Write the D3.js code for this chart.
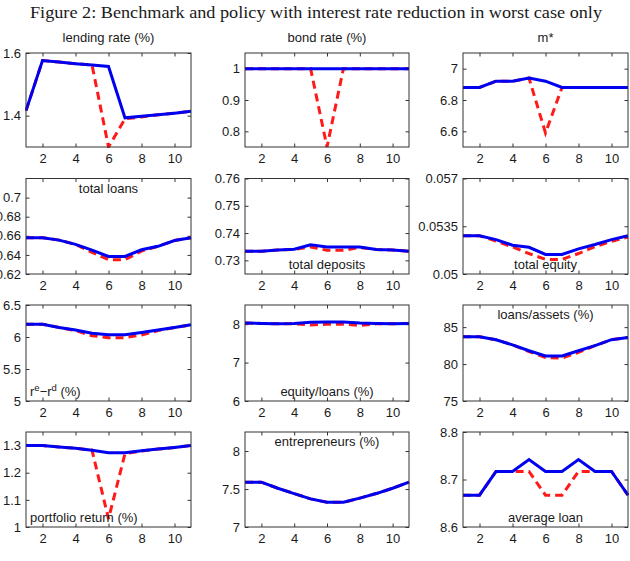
<!DOCTYPE html>
<html>
<head>
<meta charset="utf-8">
<script src="https://cdn.jsdelivr.net/npm/d3@7"></script>
<style>
body { margin: 0; background: #fff; }
svg text { font-family: "Liberation Sans", Arial, sans-serif; fill: #1a1a1a; }
</style>
</head>
<body>
<svg id="chart" width="630" height="561"></svg>
<script>
// horizon (quarters) and shared x tick labels
var periods = [1, 2, 3, 4, 5, 6, 7, 8, 9, 10, 11];
var xTicks = [2, 4, 6, 8, 10];

// benchmark (blue) and policy (red dashed) paths
var lendingBench  = [1.416, 1.576, 1.571, 1.566, 1.562, 1.557, 1.393, 1.398, 1.403, 1.408, 1.414];
var lendingPolicy = [1.416, 1.576, 1.571, 1.566, 1.562, 1.300, 1.390, 1.396, 1.403, 1.408, 1.414];

var bondBench  = [1, 1, 1, 1, 1, 1, 1, 1, 1, 1, 1];
var bondPolicy = [1, 1, 1, 1, 1, 0.75, 1, 1, 1, 1, 1];

var mBench  = [6.88, 6.88, 6.92, 6.92, 6.94, 6.92, 6.88, 6.88, 6.88, 6.88, 6.88];
var mPolicy = [6.88, 6.88, 6.92, 6.92, 6.94, 6.59, 6.88, 6.88, 6.88, 6.88, 6.88];

var loansBench  = [0.658, 0.658, 0.6555, 0.651, 0.645, 0.6384, 0.6384, 0.6454, 0.649, 0.655, 0.658];
var loansPolicy = [0.658, 0.658, 0.6555, 0.651, 0.6426, 0.635, 0.635, 0.644, 0.649, 0.655, 0.658];

var depositsBench  = [0.7333, 0.7333, 0.7338, 0.7341, 0.7357, 0.7349, 0.7349, 0.7349, 0.734, 0.7338, 0.7333];
var depositsPolicy = [0.7333, 0.7333, 0.7338, 0.734, 0.7349, 0.7337, 0.7337, 0.7347, 0.734, 0.7338, 0.7333];

var equityBench  = [0.0528, 0.0528, 0.05252, 0.05211, 0.05196, 0.05143, 0.05143, 0.05184, 0.05216, 0.05252, 0.0528];
var equityPolicy = [0.0528, 0.0528, 0.05242, 0.05198, 0.0515, 0.05107, 0.05107, 0.0515, 0.052, 0.0524, 0.0527];

var spreadBench  = [6.2, 6.2, 6.15, 6.11, 6.06, 6.035, 6.035, 6.07, 6.11, 6.15, 6.19];
var spreadPolicy = [6.2, 6.2, 6.15, 6.1, 6.02, 5.99, 5.99, 6.03, 6.1, 6.15, 6.19];

var eqLoansBench  = [8.03, 8.02, 8.01, 8.02, 8.05, 8.06, 8.06, 8.03, 8.02, 8.01, 8.02];
var eqLoansPolicy = [8.03, 8.02, 8.01, 8.01, 7.98, 8.0, 8.0, 7.97, 8.01, 8.01, 8.02];

var loanAssetBench  = [83.7, 83.7, 83.3, 82.6, 81.8, 81.1, 81.1, 81.8, 82.5, 83.3, 83.6];
var loanAssetPolicy = [83.7, 83.7, 83.3, 82.6, 81.7, 80.9, 80.8, 81.6, 82.5, 83.3, 83.6];

var portfolioBench  = [1.3, 1.3, 1.295, 1.29, 1.283, 1.274, 1.274, 1.281, 1.287, 1.293, 1.3];
var portfolioPolicy = [1.3, 1.3, 1.295, 1.29, 1.283, 1.03, 1.27, 1.28, 1.287, 1.293, 1.3];

var entrepBench  = [7.59, 7.59, 7.51, 7.44, 7.37, 7.325, 7.325, 7.38, 7.44, 7.51, 7.59];
var entrepPolicy = [7.59, 7.59, 7.51, 7.44, 7.37, 7.325, 7.325, 7.38, 7.44, 7.51, 7.59];

var avgLoanBench  = [8.667, 8.667, 8.717, 8.717, 8.742, 8.717, 8.717, 8.742, 8.717, 8.717, 8.667];
var avgLoanPolicy = [8.667, 8.667, 8.717, 8.717, 8.717, 8.667, 8.667, 8.717, 8.717, 8.717, 8.667];

// y ranges and tick labels per panel
var titles = ["lending rate (%)", "bond rate (%)", "m*", "total loans", "total deposits", "total equity",
              "re-rd", "equity/loans (%)", "loans/assets (%)", "portfolio return (%)", "entrepreneurs (%)", "average loan"];
var yDomains = [[1.3, 1.6], [0.75, 1.05], [6.5, 7.1], [0.62, 0.72], [0.725, 0.76], [0.05, 0.057],
                [5, 6.5], [6, 8.5], [75, 88], [1, 1.35], [7, 8.25], [8.6, 8.8]];
var yTicks = [[1.4, 1.6], [0.8, 0.9, 1], [6.6, 6.8, 7], [0.62, 0.64, 0.66, 0.68, 0.7], [0.73, 0.74, 0.75, 0.76],
              [0.05, 0.0535, 0.057], [5, 5.5, 6, 6.5], [6, 7, 8], [75, 80, 85], [1, 1.1, 1.2, 1.3], [7, 7.5, 8], [8.6, 8.7, 8.8]];
var benches = [lendingBench, bondBench, mBench, loansBench, depositsBench, equityBench,
               spreadBench, eqLoansBench, loanAssetBench, portfolioBench, entrepBench, avgLoanBench];
var policies = [lendingPolicy, bondPolicy, mPolicy, loansPolicy, depositsPolicy, equityPolicy,
                spreadPolicy, eqLoansPolicy, loanAssetPolicy, portfolioPolicy, entrepPolicy, avgLoanPolicy];

// layout
var colX = [[26, 191], [245, 409], [463, 628]];
var rowY = [[53, 147], [178.5, 274], [305, 401], [432, 527]];
var labelPlace = ["above", "above", "above", "top", "bottom", "bottom",
                  "bottomleft", "bottom", "top", "bottomleft", "top", "bottom"];

var svg = d3.select("#chart");

svg.append("text")
    .attr("x", 316)
    .attr("y", 18)
    .attr("text-anchor", "middle")
    .attr("textLength", 572)
    .attr("lengthAdjust", "spacingAndGlyphs")
    .style("font-family", "'Liberation Serif', 'DejaVu Serif', serif")
    .style("font-size", "17.5px")
    .text("Figure 2: Benchmark and policy with interest rate reduction in worst case only");

var tickLen = 3.5;

titles.forEach(function(title, i) {
  var c = colX[i % 3], r = rowY[Math.floor(i / 3)];
  var w = c[1] - c[0], h = r[1] - r[0];

  var x = d3.scaleLinear().domain([1, 11]).range([0, w]);
  var y = d3.scaleLinear().domain(yDomains[i]).range([h, 0]);

  var g = svg.append("g")
      .attr("transform", "translate(" + c[0] + "," + r[0] + ")");

  g.append("clipPath")
      .attr("id", "clip" + i)
    .append("rect")
      .attr("x", -1).attr("y", -1)
      .attr("width", w + 2).attr("height", h + 2);

  // ticks on all four sides, pointing inward
  var fmt = function(d) { return String(d); };
  g.append("g")
      .attr("transform", "translate(0," + h + ")")
      .call(d3.axisBottom(x).tickValues(xTicks).tickSizeInner(-tickLen).tickSizeOuter(0).tickPadding(7).tickFormat(fmt));
  g.append("g")
      .call(d3.axisTop(x).tickValues(xTicks).tickSizeInner(-tickLen).tickSizeOuter(0).tickFormat(""));
  g.append("g")
      .call(d3.axisLeft(y).tickValues(yTicks[i]).tickSizeInner(-tickLen).tickSizeOuter(0).tickPadding(5).tickFormat(fmt));
  g.append("g")
      .attr("transform", "translate(" + w + ",0)")
      .call(d3.axisRight(y).tickValues(yTicks[i]).tickSizeInner(-tickLen).tickSizeOuter(0).tickFormat(""));

  g.selectAll(".domain").remove();
  g.selectAll(".tick line").attr("stroke", "#333");
  g.selectAll(".tick text")
      .style("font-size", "13px")
      .style("font-family", "'Liberation Sans', Arial, sans-serif")
      .attr("fill", "#1a1a1a");

  var line = d3.line()
      .x(function(d, j) { return x(periods[j]); })
      .y(function(d) { return y(d); });

  var plot = g.append("g").attr("clip-path", "url(#clip" + i + ")");

  plot.append("path")
      .datum(policies[i])
      .attr("d", line)
      .attr("fill", "none")
      .attr("stroke", "#ff1a1a")
      .attr("stroke-width", 3)
      .attr("stroke-dasharray", "8,5");

  plot.append("path")
      .datum(benches[i])
      .attr("d", line)
      .attr("fill", "none")
      .attr("stroke", "#0000f0")
      .attr("stroke-width", 3);

  g.append("rect")
      .attr("width", w)
      .attr("height", h)
      .attr("fill", "none")
      .attr("stroke", "#333")
      .attr("stroke-width", 1);

  // panel label
  var place = labelPlace[i];
  var lab = g.append("text").style("font-size", "13px");
  if (place === "above") {
    lab.attr("x", w / 2).attr("y", -11).attr("text-anchor", "middle").text(title);
  } else if (place === "top") {
    lab.attr("x", w / 2).attr("y", 14).attr("text-anchor", "middle").text(title);
  } else if (place === "bottom") {
    lab.attr("x", w / 2).attr("y", h - 5).attr("text-anchor", "middle").text(title);
  } else if (title === "re-rd") {
    lab.attr("x", 4).attr("y", h - 5);
    lab.append("tspan").text("r");
    lab.append("tspan").attr("dy", -5).style("font-size", "9.5px").text("e");
    lab.append("tspan").attr("dy", 5).text("\u2212r");
    lab.append("tspan").attr("dy", -5).style("font-size", "9.5px").text("d");
    lab.append("tspan").attr("dy", 5).text(" (%)");
  } else {
    lab.attr("x", 4).attr("y", h - 5).text(title);
  }
});
</script>
</body>
</html>
